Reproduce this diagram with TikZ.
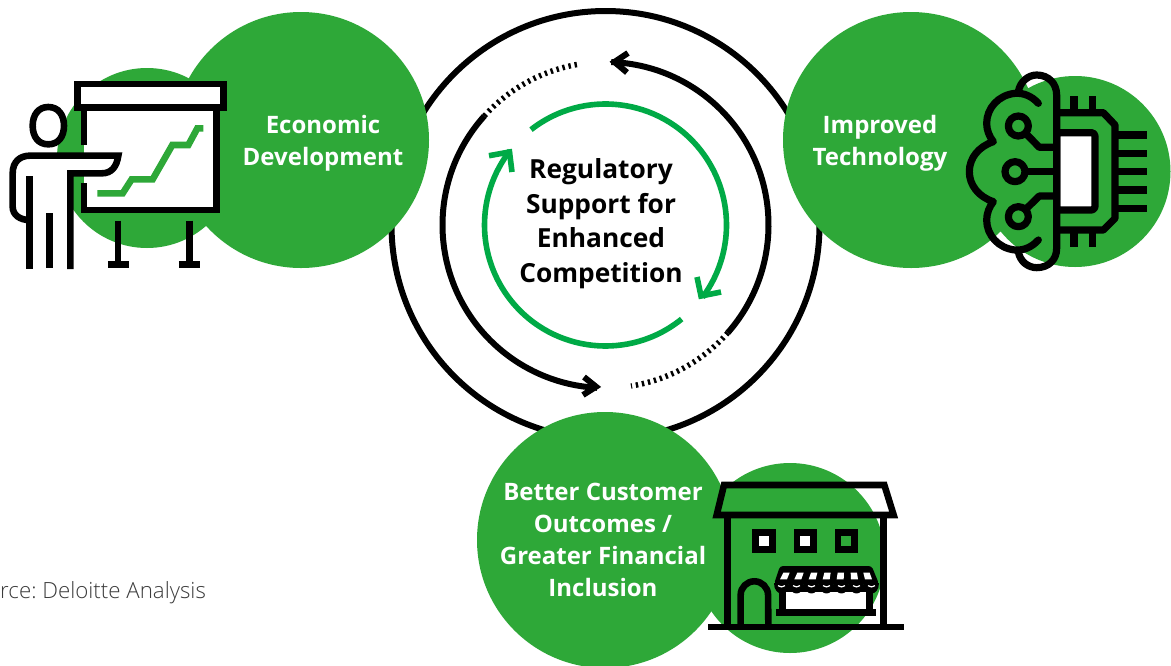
\documentclass[tikz,border=0pt]{standalone}
\usepackage{fontspec}
\setmainfont{Open Sans}
\newfontfamily\lightfont{Open Sans Light}
\definecolor{disc}{RGB}{46,168,56}
\definecolor{ringgreen}{RGB}{0,170,70}
\definecolor{srcgray}{RGB}{60,60,60}
\tikzset{
  discnode/.style={circle,fill=disc,minimum size=#1,inner sep=0pt,draw=none},
  lab/.style={align=center,font=\fontsize{24}{32}\selectfont\bfseries,inner sep=0pt,text=white},
  ink/.style={draw=black,line width=6.6pt,miter limit=6},
  thickink/.style={draw=black,line width=7.2pt,miter limit=6},
  bring/.style={draw=black,line width=6pt},
  gring/.style={draw=ringgreen,line width=5.6pt},
  dotring/.style={draw=black,line width=5.5pt,dash pattern=on 2.4pt off 3.8pt},
  icon/.style={x=0.33333pt,y=-0.33333pt}
}
\begin{document}
\begin{tikzpicture}[x=1pt,y=-1pt]
\useasboundingbox (0,0) rectangle (1171,665);
\fill[white] (0,0) rectangle (1171,665);
\coordinate (c) at (605.5,225);
% outer ring
\node[circle,draw=black,line width=6pt,minimum size=428pt,inner sep=0pt] (outer) at (c) {};
% discs
\node[discnode=180pt] (d1s) at (147,158) {};
\node[discnode=256pt] (d1) at (301,140) {};
\node[discnode=191pt] (d2s) at (1075,171.5) {};
\node[discnode=256pt] (d2) at (911,140) {};
\node[discnode=190pt] (d3s) at (790,558) {};
\node[discnode=256pt] (d3) at (605,540) {};
% middle ring
\draw[bring] (c) ++(88:163pt) arc[start angle=88,end angle=-41.4,radius=163pt];
\draw[dotring] (c) ++(-41.4:163pt) arc[start angle=-41.4,end angle=-81,radius=163pt];
\draw[bring] (c) ++(138:163pt) arc[start angle=138,end angle=267,radius=163pt];
\draw[dotring] (c) ++(138:163pt) arc[start angle=138,end angle=99,radius=163pt];
\draw[bring] (628,53) -- (614.5,62) -- (627,72.5);
\draw[bring] (584,377) -- (596,386.7) -- (583,395);
% green ring
\draw[gring] (c) ++(128:121pt) arc[start angle=128,end angle=-36.7,radius=121pt];
\draw[gring] (c) ++(-51:121pt) arc[start angle=-51,end angle=-218,radius=121pt];
\draw[gring] (697,277) -- (701,296) -- (721,292);
\draw[gring] (489,155.7) -- (509.5,152) -- (512,172);
% texts
\node[lab] (t1) at (323,143) {Economic\\Development};
\node[lab] (t2) at (880,143) {Improved\\Technology};
\node[lab] (t3) at (603,540) {Better Customer\\Outcomes /\\Greater Financial\\Inclusion};
\node[lab,text=black,font=\fontsize{26.3}{34.5}\selectfont\bfseries] (t0) at (601,223.5) {Regulatory\\Support for\\Enhanced\\Competition};
\node[anchor=west,inner sep=0pt,text=srcgray,font=\fontsize{22.3}{26}\lightfont\frenchspacing] (src) at (0,593) {rce: Deloitte Analysis};
% presenter icon
\begin{scope}[shift={(0,60)},icon]
\fill[white] (252,143) rectangle (650,450);
\draw[ink,fill=white] (232,72) rectangle (670,143);
\draw[ink] (252,143) -- (252,255);
\draw[ink] (252,370) -- (252,450) -- (650,450) -- (650,143);
\draw[draw=disc,line width=6.6pt] (292,400) -- (368,400) -- (395,358) -- (458,358) -- (517,255) -- (565,255) -- (592,205) -- (610,205);
\draw[ink] (354,482) -- (354,610);
\draw[ink] (324,613) -- (386,613);
\draw[ink] (568,482) -- (568,610);
\draw[ink] (537,613) -- (600,613);
\draw[ink,fill=white] (145,141) .. controls (115,141) and (98,165) .. (98,197) .. controls (98,230) and (115,253) .. (145,253) .. controls (175,253) and (192,230) .. (192,197) .. controls (192,165) and (175,141) .. (145,141) -- cycle;
\fill[white] (38,340) .. controls (38,305) and (60,287) .. (90,287) -- (355,287) .. controls (350,320) and (335,340) .. (305,340) -- (211,340) -- (211,627) -- (88,627) -- (88,480) .. controls (60,480) and (38,465) .. (38,440) -- cycle;
\draw[ink] (88,480) .. controls (60,480) and (38,465) .. (38,440) -- (38,340) .. controls (38,305) and (60,287) .. (90,287) -- (355,287) .. controls (350,320) and (335,340) .. (305,340) -- (211,340) -- (211,627);
\draw[ink] (88,348) -- (88,627);
\draw[ink] (148,460) -- (148,623);
\end{scope}
% brain and chip icon
\begin{scope}[shift={(960,60)},icon,every path/.append style={line join=round}]
\draw[thickink,fill=white] (290,218) -- (395,218) .. controls (400,218) and (405,223) .. (405,228) -- (405,440) .. controls (405,445) and (400,450) .. (395,450) -- (290,450) -- cycle;
\draw[thickink] (290,158) -- (430,158) -- (465,195) -- (465,475) -- (430,510) -- (290,510);
\draw[thickink] (342,108) -- (342,158);
\draw[thickink] (398,108) -- (398,158);
\draw[thickink] (342,510) -- (342,560);
\draw[thickink] (398,510) -- (398,560);
\foreach \yy in {225,280,335,390,445} {\draw[thickink] (465,\yy) -- (560,\yy);}
\draw[thickink,line cap=round] (235,130) .. controls (215,108) and (190,98) .. (165,100) .. controls (115,105) and (80,145) .. (80,190) .. controls (80,210) and (88,230) .. (100,245) .. controls (55,260) and (28,295) .. (28,335) .. controls (28,375) and (55,410) .. (100,425) .. controls (88,440) and (80,460) .. (80,480) .. controls (80,525) and (115,565) .. (165,570) .. controls (190,572) and (215,562) .. (235,540);
\draw[thickink] (175,95) .. controls (180,65) and (205,45) .. (230,45) .. controls (265,45) and (290,70) .. (290,105) -- (290,565) .. controls (290,600) and (265,623) .. (230,623) .. controls (205,623) and (180,605) .. (175,575);
\draw[thickink] (175,198) circle[radius=10pt];
\draw[thickink] (165,335) circle[radius=10pt];
\draw[thickink] (175,470) circle[radius=10pt];
\draw[thickink] (198,221) -- (238,262) -- (285,262);
\draw[thickink] (195,335) -- (285,335);
\draw[thickink] (198,447) -- (238,408) -- (285,408);
\end{scope}
% storefront icon
\begin{scope}[shift={(700,460)},icon]
\draw[ink] (72,75) -- (553,75) -- (581,165) -- (50,165) -- cycle;
\draw[ink] (82,165) -- (82,500);
\draw[ink] (550,165) -- (550,500);
\draw[ink] (25,501) -- (612,501);
\draw[ink,fill=white] (167,218) rectangle (217,268);
\draw[ink,fill=white] (291,218) rectangle (341,268);
\draw[ink] (414,218) rectangle (464,268);
\draw[ink] (122,492) -- (122,405) arc[start angle=180,end angle=0,radius=13.7pt] -- (205,492);
\draw[ink,fill=white] (248,385) rectangle (508,457);
\draw[ink] (228,457) -- (528,457);
\fill[black,rounded corners=3pt] (240,318) -- (515,318) -- (537,372) -- (222,372) -- cycle;
\foreach \xx in {222,267,312,357,402,447,492} {\fill[black] (\xx,368) .. controls (\xx,412) and (\xx+45,412) .. (\xx+45,368) -- cycle;
\draw[white,line width=1.2pt] (\xx+12,377) .. controls (\xx+18,382) and (\xx+27,382) .. (\xx+33,377);}
\foreach \xa/\xb in {250/240,292/283,333/326,373/368,413/410,452/453,490/495} {\fill[white] (\xa,338) -- (\xa+19,338) -- (\xb+21,358) -- (\xb,358) -- cycle;}
\end{scope}
\end{tikzpicture}
\end{document}
